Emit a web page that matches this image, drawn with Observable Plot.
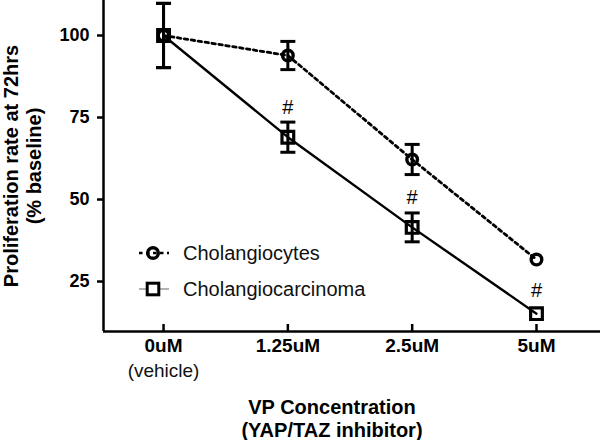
<!DOCTYPE html>
<html>
<head>
<meta charset="utf-8">
<script src="https://cdn.jsdelivr.net/npm/d3@7"></script>
<script src="https://cdn.jsdelivr.net/npm/@observablehq/plot@0.6"></script>
<style>
  html, body { margin: 0; padding: 0; background: #fff; }
  #wrap { position: relative; width: 600px; height: 440px; font-family: "Liberation Sans", Arial, sans-serif; }
  #legend { position: absolute; left: 138px; top: 241px; font-size: 20px; color: #111; }
  #legend .row { display: flex; align-items: center; height: 24px; margin-bottom: 12px; }
  #legend svg { width: 32px; height: 24px; margin-right: 13px; flex: none; }
</style>
</head>
<body>
<div id="wrap">
  <div id="chart"></div>
  <div id="legend"></div>
</div>
<script>
// ---- data ----
const concentrations = ["0uM", "1.25uM", "2.5uM", "5uM"];
const concentrationNotes = ["(vehicle)", "", "", ""];
const cholangiocytes = [100, 93.9, 62.2, 31.7];
const cholangiocytesErr = [9.8, 4.3, 4.6, 0];
const carcinoma = [100, 69.0, 41.5, 15.2];
const carcinomaErr = [9.8, 4.6, 4.4, 0];
const carcinomaSig = ["", "#", "#", "#"];
const yTicks = [25, 50, 75, 100];
const seriesNames = ["Cholangiocytes", "Cholangiocarcinoma"];
const yTitle = "Proliferation rate at 72hrs\n(% baseline)";
const xTitle = "VP Concentration\n(YAP/TAZ inhibitor)";

// ---- derived tables ----
const idx = concentrations.map((c, i) => i);
const cyte = idx.map(i => ({x: i, y: cholangiocytes[i], err: cholangiocytesErr[i]}));
const carc = idx.map(i => ({x: i, y: carcinoma[i], err: carcinomaErr[i], sig: carcinomaSig[i]}));
const withErr = [...cyte, ...carc].filter(d => d.err > 0);

const xDomain = [-0.483, 3.515];
const yDomain = [9.76, 110.67];

const capSymbol = {
  draw(ctx, size) {
    const r = Math.sqrt(size / Math.PI);
    ctx.moveTo(-r, 0);
    ctx.lineTo(r, 0);
  }
};

const chart = Plot.plot({
  width: 600,
  height: 440,
  marginLeft: 103,
  marginRight: 0,
  marginTop: 0,
  marginBottom: 109,
  style: {fontFamily: "'Liberation Sans', Arial, sans-serif", background: "#fff", color: "#000", overflow: "visible"},
  x: {domain: xDomain},
  y: {domain: yDomain},
  marks: [
    // axis lines
    Plot.ruleY([yDomain[0]], {strokeWidth: 2.5, stroke: "#000"}),
    Plot.ruleX([xDomain[0]], {strokeWidth: 2.5, stroke: "#000"}),
    // y axis
    Plot.axisY({ticks: yTicks, tickSize: 6, tickPadding: 8, fontSize: 18, fontWeight: "bold", strokeWidth: 2.5, label: null}),
    // x axis labels and inward ticks
    Plot.axisX({ticks: idx, tickFormat: i => concentrations[i], tickSize: 0, tickPadding: 7, fontSize: 19, fontWeight: "bold", label: null}),
    Plot.ruleX(idx, {insetTop: 324, strokeWidth: 2.5, stroke: "#000"}),
    Plot.text(idx, {x: d => d, text: i => concentrationNotes[i], frameAnchor: "bottom", dy: 39, fontSize: 19, lineAnchor: "middle", fill: "#111"}),
    // titles
    Plot.text([yTitle], {frameAnchor: "left", textAnchor: "middle", rotate: -90, dx: -81, fontSize: 20, fontWeight: "bold", lineHeight: 1.12, lineAnchor: "middle", fill: "#000"}),
    Plot.text([xTitle], {frameAnchor: "bottom", textAnchor: "middle", dx: -20, dy: 87, fontSize: 20, fontWeight: "bold", lineHeight: 1.15, lineAnchor: "middle", fill: "#000"}),
    // series lines
    Plot.line(cyte, {x: "x", y: "y", stroke: "#000", strokeWidth: 2.8, strokeDasharray: "3.5,3.5"}),
    Plot.line(carc, {x: "x", y: "y", stroke: "#000", strokeWidth: 2.4}),
    // error bars
    Plot.ruleX(withErr, {x: "x", y1: d => d.y - d.err, y2: d => d.y + d.err, stroke: "#000", strokeWidth: 3}),
    Plot.dot(withErr, {x: "x", y: d => d.y + d.err, symbol: capSymbol, r: 7.5, stroke: "#000", strokeWidth: 3, fill: "none"}),
    Plot.dot(withErr, {x: "x", y: d => d.y - d.err, symbol: capSymbol, r: 7.5, stroke: "#000", strokeWidth: 3, fill: "none"}),
    // markers
    Plot.dot(cyte, {x: "x", y: "y", symbol: "circle", r: 5.3, stroke: "#000", strokeWidth: 3.4, fill: "none"}),
    Plot.dot(carc, {x: "x", y: "y", symbol: "square", r: 6.6, stroke: "#000", strokeWidth: 3.2, fill: "none"}),
    // significance marks
    Plot.text(carc.filter(d => d.sig), {x: "x", y: d => d.y + Math.max(d.err, 2.5), text: "sig", dy: -15, fontSize: 20, lineAnchor: "middle", fill: "#000"})
  ]
});
document.getElementById("chart").appendChild(chart);

// legend
const legend = document.getElementById("legend");
legend.innerHTML = `
  <div class="row">
    <svg viewBox="0 0 32 24"><line x1="1" x2="31" y1="12" y2="12" stroke="#000" stroke-width="2.5" stroke-dasharray="3.5,3.5"/><circle cx="15" cy="12" r="5.3" fill="none" stroke="#000" stroke-width="3.4"/></svg>
    <span>${seriesNames[0]}</span>
  </div>
  <div class="row">
    <svg viewBox="0 0 32 24"><line x1="1" x2="31" y1="12" y2="12" stroke="#999" stroke-width="1.5"/><rect x="9.2" y="6.2" width="11.6" height="11.6" fill="#fff" stroke="#000" stroke-width="3"/></svg>
    <span>${seriesNames[1]}</span>
  </div>`;
</script>
</body>
</html>
